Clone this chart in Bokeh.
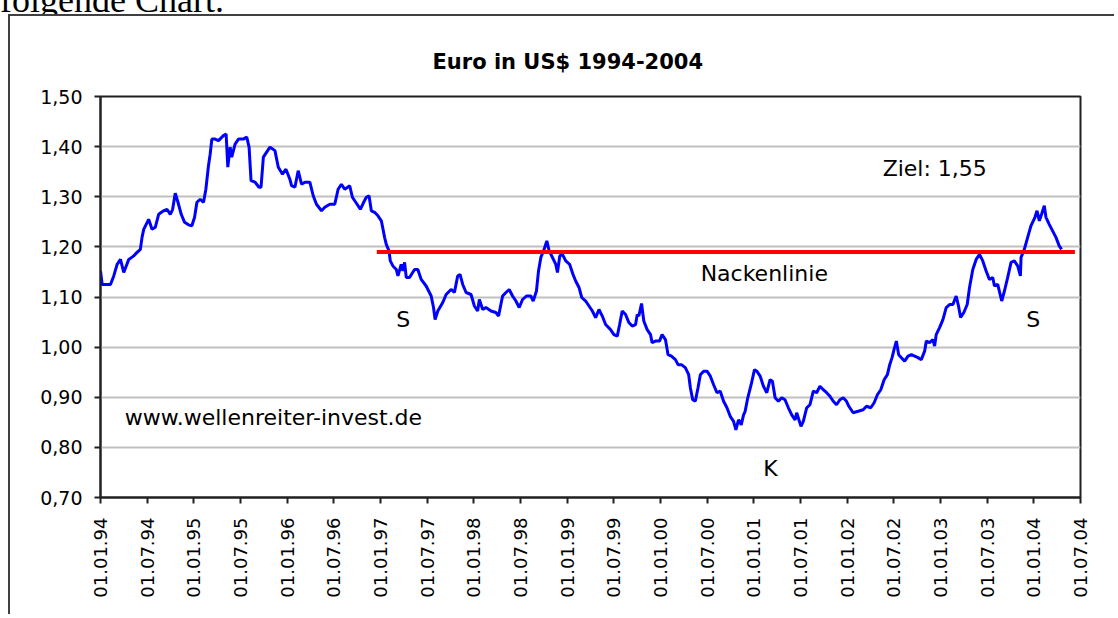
import math
from bokeh.plotting import figure
from bokeh.layouts import column
from bokeh.models import Range1d, FixedTicker, ColumnDataSource, Div
from bokeh.core.properties import value
from bokeh.embed import file_html
from bokeh.resources import INLINE

# ---- data (decimal years, EUR in USD) ----
dates = [
    1994.000, 1994.018, 1994.107, 1994.142, 1994.178, 1994.214, 1994.249, 1994.303, 1994.356, 1994.392,
    1994.427, 1994.445, 1994.463, 1994.516, 1994.552, 1994.587, 1994.623, 1994.676, 1994.712, 1994.748,
    1994.773, 1994.801, 1994.830, 1994.865, 1994.901, 1994.943, 1994.979, 1995.008, 1995.033, 1995.068,
    1995.104, 1995.129, 1995.157, 1995.175, 1995.193, 1995.228, 1995.264, 1995.317, 1995.346, 1995.364,
    1995.389, 1995.406, 1995.442, 1995.478, 1995.531, 1995.567, 1995.592, 1995.613, 1995.656, 1995.698,
    1995.720, 1995.745, 1995.780, 1995.816, 1995.869, 1995.905, 1995.950, 1995.987, 1996.029, 1996.047,
    1996.083, 1996.118, 1996.154, 1996.190, 1996.243, 1996.279, 1996.314, 1996.368, 1996.403, 1996.457,
    1996.510, 1996.546, 1996.581, 1996.617, 1996.670, 1996.699, 1996.749, 1996.784, 1996.820, 1996.848,
    1996.877, 1996.902, 1996.937, 1996.973, 1997.009, 1997.044, 1997.062, 1997.091, 1997.105, 1997.133,
    1997.169, 1997.187, 1997.222, 1997.240, 1997.258, 1997.276, 1997.311, 1997.365, 1997.400, 1997.436,
    1997.489, 1997.543, 1997.568, 1997.585, 1997.614, 1997.667, 1997.703, 1997.756, 1997.792, 1997.827,
    1997.852, 1997.881, 1997.917, 1997.970, 1998.006, 1998.041, 1998.059, 1998.095, 1998.130, 1998.184,
    1998.237, 1998.265, 1998.308, 1998.344, 1998.379, 1998.415, 1998.451, 1998.486, 1998.522, 1998.564,
    1998.611, 1998.636, 1998.671, 1998.693, 1998.718, 1998.753, 1998.782, 1998.807, 1998.842, 1998.878,
    1998.896, 1998.921, 1998.949, 1998.985, 1999.027, 1999.063, 1999.091, 1999.127, 1999.156, 1999.198,
    1999.234, 1999.270, 1999.305, 1999.341, 1999.376, 1999.412, 1999.465, 1999.501, 1999.537, 1999.562,
    1999.590, 1999.626, 1999.661, 1999.697, 1999.733, 1999.751, 1999.768, 1999.797, 1999.821, 1999.857,
    1999.893, 1999.910, 1999.946, 1999.989, 2000.017, 2000.053, 2000.081, 2000.117, 2000.160, 2000.188,
    2000.224, 2000.266, 2000.302, 2000.320, 2000.345, 2000.373, 2000.402, 2000.427, 2000.462, 2000.498,
    2000.534, 2000.569, 2000.605, 2000.640, 2000.676, 2000.712, 2000.747, 2000.783, 2000.808, 2000.836,
    2000.865, 2000.890, 2000.907, 2000.935, 2000.971, 2001.007, 2001.032, 2001.068, 2001.103, 2001.139,
    2001.174, 2001.199, 2001.228, 2001.263, 2001.299, 2001.334, 2001.370, 2001.406, 2001.442, 2001.459,
    2001.505, 2001.530, 2001.566, 2001.601, 2001.637, 2001.673, 2001.708, 2001.744, 2001.780, 2001.815,
    2001.851, 2001.886, 2001.922, 2001.958, 2001.993, 2002.018, 2002.064, 2002.118, 2002.171, 2002.207,
    2002.253, 2002.289, 2002.324, 2002.360, 2002.396, 2002.431, 2002.456, 2002.481, 2002.502, 2002.527,
    2002.552, 2002.581, 2002.616, 2002.652, 2002.688, 2002.723, 2002.759, 2002.794, 2002.830, 2002.848,
    2002.883, 2002.919, 2002.937, 2002.954, 2002.990, 2003.026, 2003.061, 2003.097, 2003.133, 2003.168,
    2003.193, 2003.215, 2003.250, 2003.286, 2003.311, 2003.346, 2003.382, 2003.418, 2003.453, 2003.489,
    2003.524, 2003.560, 2003.578, 2003.613, 2003.656, 2003.685, 2003.720, 2003.756, 2003.791, 2003.827,
    2003.856, 2003.863, 2003.898, 2003.934, 2003.969, 2004.012, 2004.034, 2004.059, 2004.083, 2004.112,
    2004.130, 2004.165, 2004.201, 2004.237, 2004.272, 2004.297,
]
eur_usd = [
    1.152, 1.125, 1.125, 1.142, 1.165, 1.175, 1.149, 1.175, 1.182, 1.189,
    1.195, 1.219, 1.235, 1.255, 1.235, 1.239, 1.265, 1.272, 1.275, 1.265,
    1.275, 1.307, 1.289, 1.265, 1.249, 1.244, 1.242, 1.259, 1.289, 1.295,
    1.289, 1.315, 1.362, 1.385, 1.415, 1.415, 1.412, 1.422, 1.425, 1.359,
    1.399, 1.379, 1.405, 1.415, 1.415, 1.419, 1.399, 1.332, 1.329, 1.319,
    1.319, 1.379, 1.389, 1.399, 1.392, 1.359, 1.345, 1.355, 1.335, 1.322,
    1.319, 1.352, 1.325, 1.329, 1.329, 1.302, 1.285, 1.272, 1.279, 1.285,
    1.285, 1.315, 1.325, 1.315, 1.322, 1.299, 1.285, 1.275, 1.289, 1.299,
    1.302, 1.272, 1.269, 1.262, 1.252, 1.219, 1.205, 1.192, 1.172, 1.162,
    1.155, 1.142, 1.165, 1.152, 1.169, 1.139, 1.139, 1.155, 1.155, 1.135,
    1.122, 1.102, 1.079, 1.055, 1.072, 1.089, 1.105, 1.115, 1.109, 1.142,
    1.145, 1.125, 1.109, 1.105, 1.082, 1.072, 1.095, 1.075, 1.079, 1.072,
    1.069, 1.062, 1.102, 1.109, 1.115, 1.102, 1.092, 1.079, 1.095, 1.102,
    1.102, 1.092, 1.112, 1.152, 1.179, 1.195, 1.212, 1.192, 1.179, 1.165,
    1.149, 1.182, 1.185, 1.172, 1.165, 1.145, 1.132, 1.119, 1.099, 1.092,
    1.082, 1.072, 1.059, 1.075, 1.062, 1.045, 1.035, 1.025, 1.022, 1.045,
    1.072, 1.065, 1.049, 1.042, 1.045, 1.065, 1.062, 1.087, 1.052, 1.035,
    1.025, 1.009, 1.012, 1.012, 1.025, 1.015, 0.985, 0.982, 0.975, 0.965,
    0.965, 0.959, 0.945, 0.919, 0.895, 0.892, 0.919, 0.945, 0.952, 0.952,
    0.942, 0.925, 0.909, 0.912, 0.892, 0.879, 0.862, 0.852, 0.835, 0.855,
    0.845, 0.865, 0.872, 0.899, 0.925, 0.955, 0.952, 0.942, 0.922, 0.909,
    0.935, 0.932, 0.899, 0.892, 0.899, 0.895, 0.879, 0.865, 0.855, 0.869,
    0.842, 0.852, 0.879, 0.885, 0.912, 0.909, 0.922, 0.915, 0.909, 0.902,
    0.892, 0.885, 0.895, 0.899, 0.892, 0.882, 0.869, 0.872, 0.875, 0.882,
    0.879, 0.889, 0.905, 0.915, 0.935, 0.945, 0.965, 0.979, 0.995, 1.012,
    0.985, 0.979, 0.972, 0.982, 0.985, 0.982, 0.979, 0.975, 0.992, 1.012,
    1.009, 1.015, 1.002, 1.025, 1.039, 1.055, 1.079, 1.085, 1.085, 1.102,
    1.082, 1.059, 1.069, 1.085, 1.119, 1.155, 1.175, 1.185, 1.172, 1.152,
    1.135, 1.139, 1.122, 1.125, 1.092, 1.112, 1.139, 1.169, 1.172, 1.162,
    1.142, 1.179, 1.195, 1.219, 1.242, 1.259, 1.272, 1.252, 1.265, 1.282,
    1.259, 1.245, 1.232, 1.219, 1.202, 1.195,
]

# neckline
neck_x = [1996.96, 2004.44]
neck_y = [1.19, 1.19]

# annotations
ann_text = ["Ziel: 1,55", "Nackenlinie", "S", "S", "K", "www.wellenreiter-invest.de"]
ann_x = [2002.38, 2000.43, 1997.17, 2003.92, 2001.10, 1994.26]
ann_y = [1.356, 1.146, 1.056, 1.056, 0.758, 0.860]

# ticks
x_ticks = [1994.0, 1994.5, 1995.0, 1995.5, 1996.0, 1996.5, 1997.0, 1997.5, 1998.0, 1998.5, 1999.0,
           1999.5, 2000.0, 2000.5, 2001.0, 2001.5, 2002.0, 2002.5, 2003.0, 2003.5, 2004.0, 2004.5]
x_labels = ["01.01.94", "01.07.94", "01.01.95", "01.07.95", "01.01.96", "01.07.96", "01.01.97",
            "01.07.97", "01.01.98", "01.07.98", "01.01.99", "01.07.99", "01.01.00", "01.07.00",
            "01.01.01", "01.07.01", "01.01.02", "01.07.02", "01.01.03", "01.07.03", "01.01.04",
            "01.07.04"]
y_ticks = [0.7, 0.8, 0.9, 1.0, 1.1, 1.2, 1.3, 1.4, 1.5]
y_labels = ["0,70", "0,80", "0,90", "1,00", "1,10", "1,20", "1,30", "1,40", "1,50"]

FONT = "DejaVu Sans"

# cut-off line of page text above the chart
intro = Div(text='<div style="font-family: \'Liberation Serif\'; font-size: 36px; line-height: 36px; '
                 'margin-top: -30px; white-space: nowrap; color: #000;">folgende Chart.</div>',
            width=400, height=14, margin=(0, 0, 0, 0), styles={"overflow": "hidden"})

p = figure(width=1106, height=600,
           x_range=Range1d(1994.0, 2004.5), y_range=Range1d(0.7, 1.5),
           output_backend="svg", toolbar_location=None,
           min_border_left=90, min_border_right=36, min_border_top=80, min_border_bottom=119,
           title="Euro in US$ 1994-2004")
p.margin = (0, 0, 0, 8)
p.styles = {"border-left": "2px solid #404040", "border-top": "2px solid #404040"}

p.background_fill_color = "white"
p.border_fill_color = "white"
p.outline_line_color = "#202020"
p.outline_line_width = 2

p.title.text_font = FONT
p.title.text_font_size = "21px"
p.title.text_font_style = "bold"
p.title.text_color = "#000000"
p.title.align = "left"
p.title.offset = 332
p.title.standoff = 46

for ax in (p.xaxis[0], p.yaxis[0]):
    ax.axis_line_color = "#202020"
    ax.axis_line_width = 2
    ax.major_tick_line_color = "#202020"
    ax.major_tick_line_width = 2
    ax.major_tick_in = 0
    ax.major_tick_out = 6
    ax.minor_tick_line_color = None
    ax.major_label_text_font = FONT
    ax.major_label_text_color = "#000000"

p.yaxis.major_label_text_font_size = "19px"
p.xaxis.major_label_text_font_size = "18px"

p.xaxis.ticker = FixedTicker(ticks=x_ticks)
p.xaxis.major_label_overrides = dict(zip(x_ticks, x_labels))
p.xaxis.major_label_orientation = math.pi / 2
p.xaxis.major_label_standoff = 14

p.yaxis.ticker = FixedTicker(ticks=y_ticks)
p.yaxis.major_label_overrides = dict(zip(y_ticks, y_labels))
p.yaxis.major_label_standoff = 12

p.xgrid.visible = False
p.ygrid.ticker = FixedTicker(ticks=y_ticks)
p.ygrid.grid_line_color = "#c0c0c0"
p.ygrid.grid_line_width = 2

p.line(dates, eur_usd, line_color="#0000FF", line_width=3)
p.line(neck_x, neck_y, line_color="#FF0000", line_width=4)

src = ColumnDataSource(dict(x=ann_x, y=ann_y, text=ann_text))
p.text(x="x", y="y", text="text", source=src, text_font=value(FONT),
       text_font_size=value("22px"), text_color="#000000",
       text_align="left", text_baseline="middle")

layout = column(intro, p, spacing=0)
open("out.html", "w").write(file_html(layout, INLINE))
